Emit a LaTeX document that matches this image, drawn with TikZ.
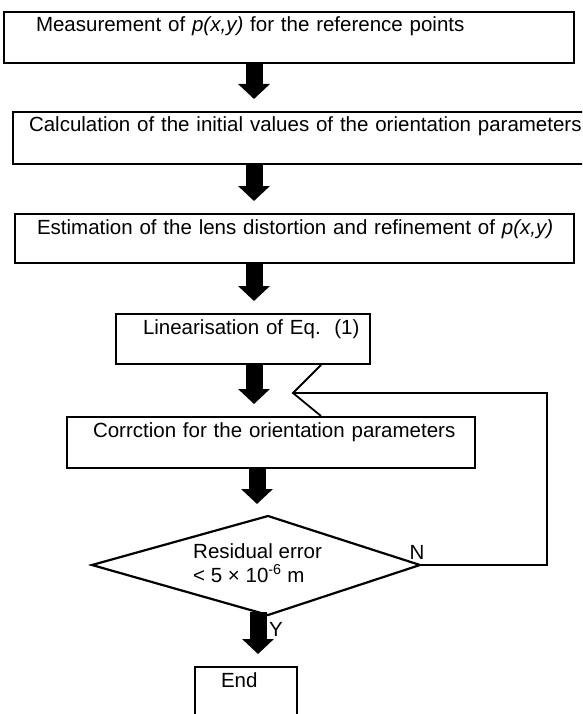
\documentclass[tikz,border=0pt]{standalone}
\usepackage{fontspec}
\setmainfont{Liberation Sans}
\usetikzlibrary{arrows.meta,positioning,calc}

\begin{document}
\begin{tikzpicture}[x=1pt,y=-1pt,
    every node/.style={font=\fontsize{20.5}{24}\selectfont},
    stage/.style={draw, line width=2pt, anchor=north west, align=left, inner ysep=4pt, text height=16pt},
    flow/.style={line width=17pt, -{Triangle[length=15pt,width=31pt]}, shorten >=12pt},
    back/.style={line width=1.8pt}]
    \useasboundingbox (0,0) rectangle (582,714);
    \clip (0,0) rectangle (582,714);

    % Steps
    \node[stage, inner xsep=32pt, text width=506pt, text depth=27pt] (meas) at (3,11) {Measurement of \textit{p(x,y)} for the reference points};
    \node[stage, inner xsep=16pt, text width=600pt, text depth=28pt] (init) at (12,111) {Calculation of the initial values of the orientation parameters};
    \node[stage, inner xsep=22pt, text width=515pt, text depth=25pt] (lens) at (14,213) {\mbox{Estimation of the lens distortion and refinement of \textit{p(x,y)}}};
    \node[stage, inner xsep=27pt, text width=200pt, text depth=26pt] (lin) at (115,313) {\mbox{Linearisation of Eq.\ \ (1)}};
    \node[stage, inner xsep=26pt, text width=356pt, text depth=27pt] (corr) at (66,416) {\mbox{Corrction for the orientation parameters}};
    \node[stage, inner xsep=26pt, text width=50pt, text depth=36pt] (stop) at (194,666) {End};

    % Decision
    \coordinate (dtop) at (268,516);
    \coordinate (deast) at (420,565);
    \coordinate (dbot) at (268,615);
    \coordinate (dwest) at (92,565);
    \draw[line width=2.2pt, line join=miter] (dtop) -- (deast) -- (dbot) -- (dwest) -- cycle;
    \node[anchor=north west, align=left, inner sep=0pt] (chk) at (193,543) {Residual error\\\textless{} 5 × 10\textsuperscript{-6} m};

    % Flow arrows
    \coordinate (ax) at (254,0);
    \coordinate (bx) at (257,0);
    \coordinate (cx) at (258,0);
    \draw[flow] (meas.south -| ax) -- (init.north -| ax);
    \draw[flow] (init.south -| ax) -- (lens.north -| ax);
    \draw[flow] (lens.south -| ax) -- (lin.north -| ax);
    \draw[flow] (lin.south -| ax) -- (corr.north -| ax);
    \draw[flow] (corr.south -| bx) -- (dtop -| bx);
    \draw[flow] ($(dbot -| cx)+(0,-3)$) -- (stop.north -| cx);

    % Loop back
    \coordinate (vtx) at (293,393);
    \coordinate (zx) at (321,0);
    \draw[back] (lin.south -| zx) -- (vtx) -- (corr.north -| zx);
    \draw[back] (deast) -- (547,565) -- (547,393) -- (vtx);
    \node (no) at (417,552) {N};
    \node (yes) at (276,629) {Y};
\end{tikzpicture}
\end{document}
